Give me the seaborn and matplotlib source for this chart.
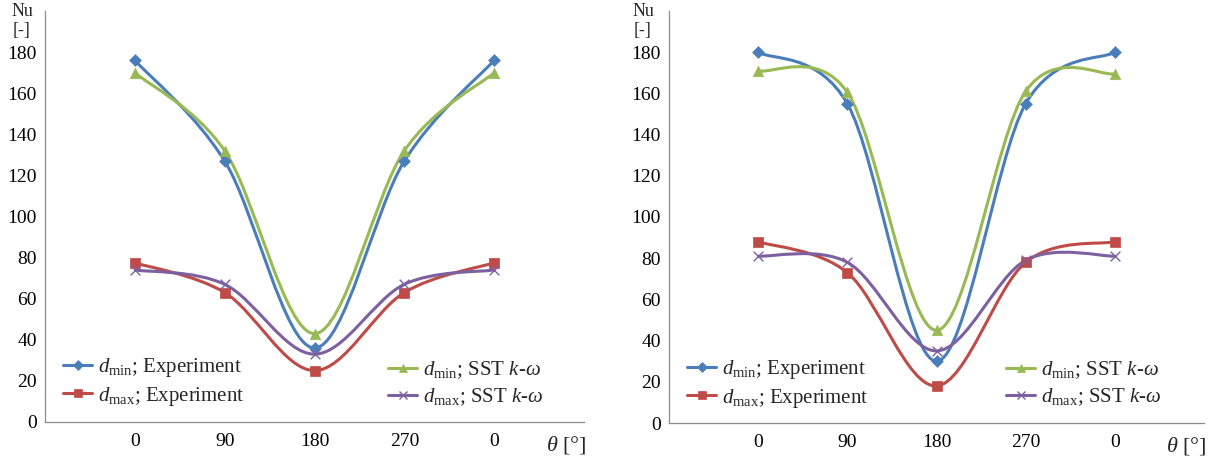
import numpy as np
import matplotlib
matplotlib.use("Agg")
import matplotlib.pyplot as plt
import seaborn as sns
from matplotlib.path import Path
from matplotlib.patches import PathPatch
from matplotlib.lines import Line2D

# angles (categories) and Nu values
theta_labels = ['0', '90', '180', '270', '0']

left_dmin_exp = [176, 127, 36, 127, 176]
left_dmax_exp = [77.5, 63, 25, 63, 77.5]
left_dmin_sst = [170, 132, 43, 132, 170]
left_dmax_sst = [74, 67, 33, 67, 74]

right_dmin_exp = [180, 155, 30, 155, 180]
right_dmax_exp = [88, 73, 18, 78, 88]
right_dmin_sst = [171, 160.5, 45, 161, 169.5]
right_dmax_sst = [81, 78, 35, 79, 81]

series_names = [r'$d_{\mathrm{min}}$; Experiment', r'$d_{\mathrm{max}}$; Experiment',
                r'$d_{\mathrm{min}}$; SST $k$-$\omega$', r'$d_{\mathrm{max}}$; SST $k$-$\omega$']
colors = ['#4A7EBB', '#BE4B48', '#98B954', '#7D60A0']
markers = ['D', 's', '^', 'x']
msizes = [6, 7, 7.5, 7]

sns.set_theme(style="white")
plt.rcParams['font.family'] = ['Liberation Serif', 'DejaVu Serif']
plt.rcParams['mathtext.fontset'] = 'custom'
plt.rcParams['mathtext.rm'] = 'Liberation Serif'
plt.rcParams['mathtext.it'] = 'Liberation Serif:italic'
plt.rcParams['mathtext.bf'] = 'Liberation Serif:bold'

W, H = 1217, 459
fig = plt.figure(figsize=(W / 100, H / 100), dpi=100)


def smooth_path(xs, ys):
    # excel-like smoothed line: cubic bezier through the points
    pts = np.column_stack([xs, ys]).astype(float)
    n = len(pts)
    verts = [pts[0]]
    codes = [Path.MOVETO]
    for i in range(n - 1):
        p0 = pts[max(i - 1, 0)]
        p1 = pts[i]
        p2 = pts[i + 1]
        p3 = pts[min(i + 2, n - 1)]
        verts += [p1 + (p2 - p0) / 6, p2 - (p3 - p1) / 6, p2]
        codes += [Path.CURVE4] * 3
    return Path(verts, codes)


def panel(rect, data, legend_pos, nu_dx):
    ax = fig.add_axes(rect)
    x = np.arange(len(theta_labels))
    for vals, c, m, ms in zip(data, colors, markers, msizes):
        ax.add_patch(PathPatch(smooth_path(x, vals), facecolor='none', edgecolor=c, lw=2.2, zorder=2))
        if m == 'x':
            sns.scatterplot(x=x, y=vals, ax=ax, marker='x', s=ms ** 2, color=c, linewidth=1.0, zorder=3, legend=False)
        else:
            sns.scatterplot(x=x, y=vals, ax=ax, marker=m, s=ms ** 2, color=c, edgecolor=c, linewidth=0.5, zorder=3, legend=False)
    ax.set_xlim(-1, 5)
    ax.set_ylim(0, 200)
    ax.set_xticks(np.arange(-1, 6))
    ax.set_xticklabels([''] + theta_labels + [''])
    ax.set_yticks(np.arange(0, 201, 20))
    ax.set_yticklabels([str(v) for v in range(0, 181, 20)] + [''])
    for s in ['top', 'right']:
        ax.spines[s].set_visible(False)
    for s in ['left', 'bottom']:
        ax.spines[s].set_color('#8C8C8C')
        ax.spines[s].set_linewidth(0.9)
    ax.tick_params(axis='both', which='both', length=3, width=0.9, color='#8C8C8C',
                   labelsize=14, labelcolor='black', direction='out')
    ax.tick_params(axis='x', pad=5)
    ax.tick_params(axis='y', pad=3)
    ax.set_xlabel('')
    ax.set_ylabel('')
    ax.grid(False)

    # axis titles
    ax.text(1.005, -0.055, r'$\theta$ [°]', transform=ax.transAxes, ha='right', va='center', fontsize=16)
    x0 = rect[0] * W
    fig.text((x0 - nu_dx) / W, 1 - 12 / H, 'Nu', ha='center', va='center', fontsize=13)
    fig.text((x0 - nu_dx) / W, 1 - 30 / H, '[-]', ha='center', va='center', fontsize=13)

    handles = [Line2D([0], [0], color=c, lw=2.2, marker=m, markersize=ms * 0.8,
                      markeredgewidth=1.0 if m == 'x' else 0.5, markeredgecolor=c)
               for c, m, ms in zip(colors, markers, msizes)]
    legs = []
    for k, (px, py) in enumerate(legend_pos):
        leg = ax.legend(handles[2 * k:2 * k + 2], series_names[2 * k:2 * k + 2],
                        loc='center left', bbox_to_anchor=(px / W, 1 - py / H), bbox_transform=fig.transFigure,
                        frameon=False, fontsize=15, handlelength=1.4, handletextpad=0.3,
                        labelspacing=0.25, borderpad=0, borderaxespad=0)
        legs.append(leg)
    ax.add_artist(legs[0])
    return ax


panel([45 / W, 1 - 422 / H, 539 / W, 411 / H],
      [left_dmin_exp, left_dmax_exp, left_dmin_sst, left_dmax_sst],
      [(63, 382), (388, 384)], 23)
panel([669 / W, 1 - 423 / H, 535 / W, 412 / H],
      [right_dmin_exp, right_dmax_exp, right_dmin_sst, right_dmax_sst],
      [(687, 384), (1006, 384)], 26)

fig.savefig('out.png', dpi=100)
